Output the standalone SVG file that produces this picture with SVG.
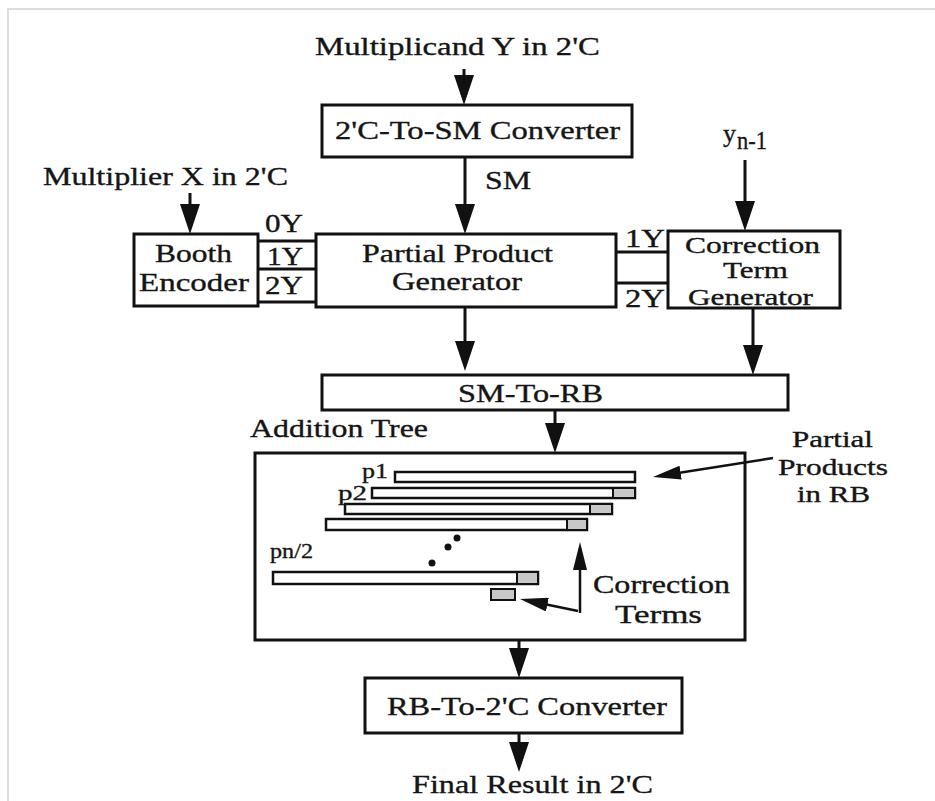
<svg xmlns="http://www.w3.org/2000/svg" width="935" height="801" viewBox="0 0 935 801">
<defs>
<style>
.t{font-family:"Liberation Serif","Times New Roman",serif;font-size:26px;fill:#151515;stroke:#151515;stroke-width:0.35}
.s{font-size:22px}
.m{font-size:23px}
.box{fill:#fff;stroke:#111;stroke-width:3}
.ln{fill:none;stroke:#111;stroke-width:3}
.ar{fill:none;stroke:#111;stroke-width:3;marker-end:url(#ah)}
.ars{fill:none;stroke:#111;stroke-width:2.5;marker-end:url(#ahs)}
.bar{fill:#fff;stroke:#111;stroke-width:2.5}
.cell{fill:#c8c8c8;stroke:#111;stroke-width:2}
.frame{fill:none;stroke:#d2d2d2;stroke-width:1.5}
</style>
<marker id="ah" markerUnits="userSpaceOnUse" viewBox="0 0 30 20" markerWidth="30" markerHeight="20" refX="24" refY="10" orient="auto">
<path d="M0,0 L30,10 L0,20 Z" fill="#111"/>
</marker>
<marker id="ahs" markerUnits="userSpaceOnUse" viewBox="0 0 28 14" markerWidth="28" markerHeight="14" refX="22" refY="7" orient="auto">
<path d="M0,0 L28,7 L0,14 Z" fill="#111"/>
</marker>
</defs>
<rect x="0" y="0" width="935" height="801" fill="#fff"/>
<path class="frame" d="M8,801 V9 H935"/>

<g id="connectors">
<path class="ln" d="M258,241 H316 M258,269 H316 M258,302 H316"/>
<path class="ln" d="M616,252 H668 M616,283 H668"/>
<path class="ar" d="M464,69 V99"/>
<path class="ar" d="M465,157 V228"/>
<path class="ar" d="M190,193 V228"/>
<path class="ar" d="M745,160 V225"/>
<path class="ar" d="M465,307 V365"/>
<path class="ar" d="M753,308 V369"/>
<path class="ar" d="M555,410 V447"/>
<path class="ar" d="M519,640 V672"/>
<path class="ar" d="M519,733 V766"/>
</g>

<g id="input-y">
<text class="t" x="315" y="55" font-size="27" textLength="285" lengthAdjust="spacingAndGlyphs">Multiplicand Y in 2'C</text>
</g>
<g id="input-x">
<text class="t" x="43" y="185" textLength="245" lengthAdjust="spacingAndGlyphs">Multiplier X in 2'C</text>
</g>
<g id="input-yn1">
<text class="t" x="723" y="142">y</text>
<text class="t" x="737" y="149" font-size="18" textLength="30" lengthAdjust="spacingAndGlyphs">n-1</text>
</g>

<g id="c2sm">
<rect class="box" x="322" y="105" width="310" height="52"/>
<text class="t" x="335" y="139" textLength="285" lengthAdjust="spacingAndGlyphs">2'C-To-SM Converter</text>
</g>
<g id="sm-label">
<text class="t" x="485" y="189" textLength="46" lengthAdjust="spacingAndGlyphs">SM</text>
</g>

<g id="booth">
<rect class="box" x="134" y="234" width="124" height="72"/>
<text class="t" x="155" y="262" textLength="77" lengthAdjust="spacingAndGlyphs">Booth</text>
<text class="t" x="139" y="291" textLength="110" lengthAdjust="spacingAndGlyphs">Encoder</text>
</g>
<g id="booth-signals">
<text class="t" x="265" y="232" textLength="38" lengthAdjust="spacingAndGlyphs">0Y</text>
<text class="t" x="267" y="265" textLength="36" lengthAdjust="spacingAndGlyphs">1Y</text>
<text class="t" x="265" y="294" textLength="38" lengthAdjust="spacingAndGlyphs">2Y</text>
</g>

<g id="ppg">
<rect class="box" x="316" y="234" width="300" height="73"/>
<text class="t" x="362" y="262" textLength="191" lengthAdjust="spacingAndGlyphs">Partial Product</text>
<text class="t" x="392" y="290" textLength="130" lengthAdjust="spacingAndGlyphs">Generator</text>
</g>
<g id="ctg-signals">
<text class="t" x="625" y="247" textLength="40" lengthAdjust="spacingAndGlyphs">1Y</text>
<text class="t" x="625" y="307" textLength="40" lengthAdjust="spacingAndGlyphs">2Y</text>
</g>

<g id="ctg">
<rect x="668" y="231" width="172" height="77" fill="#fff"/>
<text class="t m" x="685" y="253" textLength="135" lengthAdjust="spacingAndGlyphs">Correction</text>
<text class="t m" x="723" y="278" textLength="65" lengthAdjust="spacingAndGlyphs">Term</text>
<text class="t m" x="688" y="305" textLength="125" lengthAdjust="spacingAndGlyphs">Generator</text>
<rect x="668" y="231" width="172" height="77" fill="none" stroke="#111" stroke-width="3"/>
</g>

<g id="smrb">
<rect class="box" x="322" y="375" width="466" height="35"/>
<text class="t" x="458" y="402" textLength="145" lengthAdjust="spacingAndGlyphs">SM-To-RB</text>
</g>

<g id="addtree">
<text class="t" x="250" y="437" textLength="178" lengthAdjust="spacingAndGlyphs">Addition Tree</text>
<rect class="box" x="255" y="453" width="490" height="187"/>
<text class="t s" x="362" y="478" textLength="26" lengthAdjust="spacingAndGlyphs">p1</text>
<text class="t s" x="338" y="500" textLength="29" lengthAdjust="spacingAndGlyphs">p2</text>
<text class="t s" x="270" y="558" textLength="43" lengthAdjust="spacingAndGlyphs">pn/2</text>
<rect class="bar" x="395" y="472" width="240" height="10"/>
<rect class="bar" x="372" y="488" width="263" height="10"/>
<rect class="cell" x="613" y="488" width="22" height="10"/>
<rect class="bar" x="345" y="504" width="267" height="10"/>
<rect class="cell" x="590" y="504" width="22" height="10"/>
<rect class="bar" x="326" y="519" width="261" height="11"/>
<rect class="cell" x="567" y="519" width="20" height="11"/>
<circle cx="457" cy="538" r="3.5" fill="#111"/>
<circle cx="448" cy="547" r="3.5" fill="#111"/>
<circle cx="432" cy="563" r="3.5" fill="#111"/>
<rect class="bar" x="273" y="572" width="265" height="12"/>
<rect class="cell" x="517" y="572" width="21" height="12"/>
<rect class="cell" x="491" y="589" width="24" height="11"/>
<path class="ars" d="M580,613 V548"/>
<path class="ars" d="M578,611 L525.9,600.2"/>
<text class="t" x="593" y="593" textLength="137" lengthAdjust="spacingAndGlyphs">Correction</text>
<text class="t" x="615" y="623" textLength="87" lengthAdjust="spacingAndGlyphs">Terms</text>
</g>

<g id="pp-label">
<path class="ars" d="M773,458 L658.9,476.1"/>
<text class="t m" x="792" y="447" textLength="81" lengthAdjust="spacingAndGlyphs">Partial</text>
<text class="t m" x="778" y="475" textLength="110" lengthAdjust="spacingAndGlyphs">Products</text>
<text class="t m" x="797" y="502" textLength="73" lengthAdjust="spacingAndGlyphs">in RB</text>
</g>

<g id="rb2c">
<rect class="box" x="365" y="678" width="317" height="55"/>
<text class="t" x="387" y="715" textLength="280" lengthAdjust="spacingAndGlyphs">RB-To-2'C Converter</text>
</g>
<g id="output">
<text class="t" x="412" y="793" textLength="241" lengthAdjust="spacingAndGlyphs">Final Result in 2'C</text>
</g>
</svg>
